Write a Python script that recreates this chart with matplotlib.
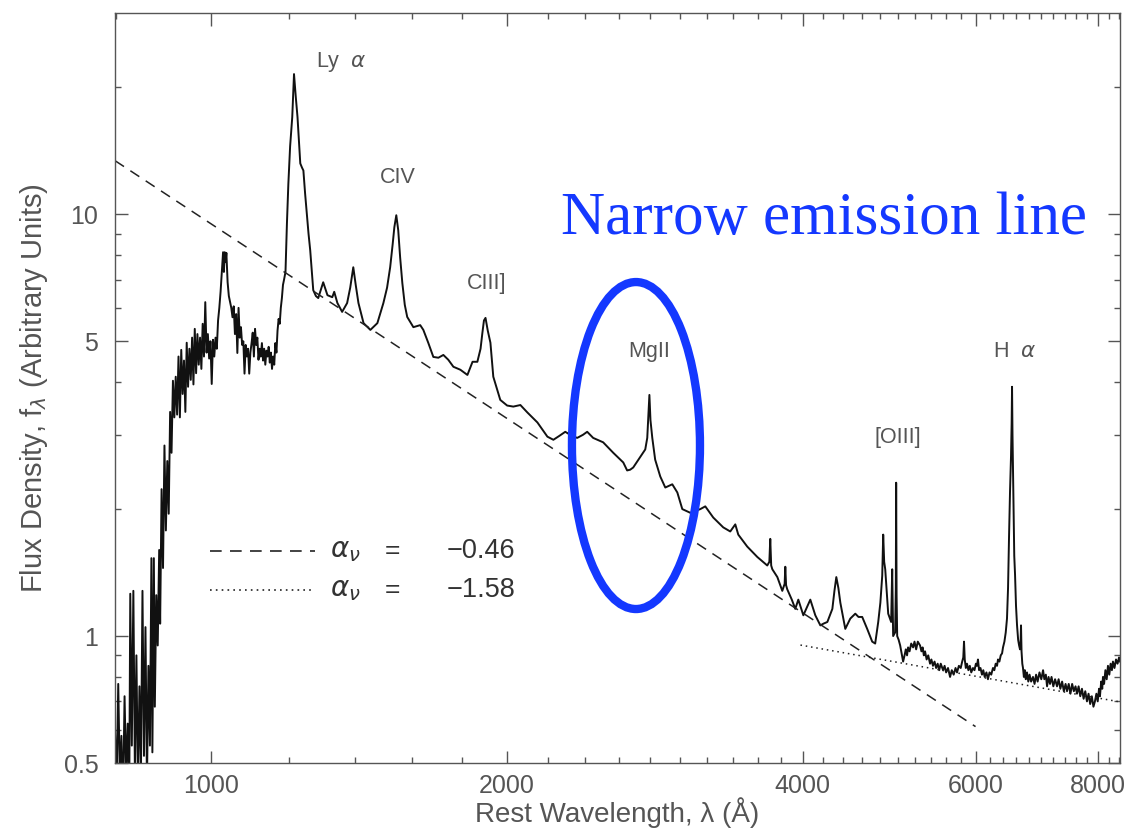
import matplotlib
matplotlib.use("Agg")
import matplotlib.pyplot as plt
from matplotlib.patches import Ellipse
from matplotlib.ticker import NullFormatter

# rest-frame composite spectrum
wave = [798, 801, 804, 807, 810, 813, 816, 819, 822, 825, 827, 830, 833, 836, 839, 842, 845, 848, 851, 854,
        857, 860, 863, 866, 869, 871, 874, 876, 879, 882, 885, 887, 890, 893, 896, 899, 902, 905, 908, 911,
        914, 917, 920, 923, 926, 929, 932, 935, 938, 941, 944, 947, 950, 953, 956, 959, 962, 965, 968, 971,
        974, 977, 980, 983, 986, 989, 992, 995, 998, 1001, 1004, 1007, 1010, 1013, 1016, 1019, 1022, 1025, 1028, 1030,
        1032, 1034, 1036, 1039, 1042, 1045, 1048, 1051, 1054, 1057, 1060, 1063, 1066, 1069, 1072, 1075, 1078, 1081, 1084, 1087,
        1090, 1093, 1096, 1099, 1102, 1105, 1108, 1111, 1114, 1117, 1120, 1123, 1126, 1129, 1132, 1135, 1138, 1141, 1144, 1147,
        1150, 1153, 1156, 1159, 1162, 1165, 1168, 1171, 1174, 1177, 1180, 1183, 1186, 1190, 1194, 1198, 1203, 1209, 1214, 1219,
        1224, 1228, 1232, 1237, 1241, 1246, 1252, 1256, 1261, 1266, 1270, 1278, 1285, 1300, 1313, 1328, 1334, 1344, 1359, 1375,
        1385, 1395, 1403, 1412, 1429, 1452, 1476, 1497, 1510, 1521, 1530, 1536, 1543, 1550, 1557, 1565, 1574, 1583, 1606, 1632,
        1644, 1663, 1683, 1703, 1723, 1743, 1764, 1793, 1823, 1845, 1866, 1880, 1888, 1895, 1902, 1912, 1924, 1937, 1969, 2001,
        2030, 2064, 2098, 2148, 2199, 2230, 2260, 2293, 2325, 2358, 2390, 2414, 2448, 2506, 2566, 2627, 2651, 2670, 2689, 2734,
        2766, 2779, 2786, 2793, 2800, 2812, 2831, 2865, 2899, 2947, 2982, 3017, 3074, 3147, 3184, 3244, 3321, 3376, 3416, 3440,
        3513, 3597, 3682, 3700, 3708, 3716, 3726, 3770, 3814, 3835, 3841, 3848, 3859, 3900, 3932, 3960, 4007, 4040, 4073, 4121,
        4170, 4200, 4239, 4289, 4310, 4329, 4350, 4370, 4421, 4473, 4526, 4560, 4600, 4654, 4709, 4742, 4776, 4800, 4821, 4832,
        4843, 4855, 4889, 4923, 4935, 4946, 4969, 4977, 4981, 4986, 4993, 5010, 5028, 5045, 5063, 5080, 5095, 5110, 5122, 5140,
        5160, 5183, 5200, 5220, 5240, 5268, 5285, 5300, 5315, 5330, 5350, 5370, 5393, 5410, 5430, 5450, 5470, 5490, 5510, 5530,
        5560, 5580, 5600, 5625, 5652, 5675, 5700, 5725, 5745, 5770, 5795, 5815, 5830, 5840, 5850, 5865, 5881, 5900, 5920, 5940,
        5964, 5985, 6005, 6020, 6034, 6050, 6070, 6091, 6110, 6130, 6155, 6177, 6200, 6225, 6250, 6270, 6290, 6310, 6324, 6345,
        6365, 6385, 6399, 6420, 6440, 6459, 6475, 6490, 6505, 6520, 6530, 6536, 6543, 6551, 6560, 6570, 6582, 6597, 6613, 6630,
        6645, 6659, 6667, 6675, 6683, 6695, 6706, 6720, 6735, 6750, 6769, 6790, 6810, 6835, 6865, 6890, 6915, 6940, 6970, 7000,
        7029, 7050, 7075, 7095, 7120, 7145, 7170, 7200, 7230, 7263, 7290, 7320, 7350, 7380, 7410, 7435, 7465, 7495, 7525, 7555,
        7585, 7611, 7640, 7670, 7700, 7730, 7760, 7791, 7820, 7850, 7880, 7910, 7938, 7965, 7990, 8015, 8032, 8055, 8075, 8089,
        8110, 8135, 8160, 8184, 8210, 8235, 8260, 8280, 8310, 8340, 8370, 8400, 8420]
flux = [0.60, 0.45, 0.77, 0.46, 0.58, 0.40, 0.72, 0.47, 0.62, 0.42, 1.26, 0.55, 1.28, 0.48, 0.90, 0.44, 0.76, 0.48, 1.28, 0.52,
        1.05, 0.45, 0.85, 0.55, 1.53, 0.53, 1.53, 0.68, 1.25, 0.95, 1.60, 1.07, 2.23, 1.45, 2.83, 1.78, 2.60, 1.95, 3.40, 2.72,
        4.03, 3.30, 4.12, 3.35, 4.60, 3.30, 4.77, 3.75, 4.50, 3.40, 4.96, 3.90, 4.80, 4.05, 5.10, 3.95, 5.35, 4.20, 5.20, 4.40,
        5.10, 4.30, 5.50, 4.60, 6.19, 4.70, 5.20, 4.55, 5.00, 3.96, 5.04, 4.60, 5.10, 4.80, 5.60, 6.00, 6.55, 7.30, 8.13, 7.30,
        8.13, 7.70, 8.10, 6.90, 6.40, 6.20, 6.00, 5.70, 6.05, 5.20, 5.80, 4.69, 6.00, 5.10, 5.40, 4.90, 5.00, 4.19, 4.90, 4.60,
        4.80, 4.19, 4.70, 4.95, 5.24, 4.60, 5.35, 4.90, 5.10, 4.52, 4.80, 4.60, 4.95, 4.50, 4.80, 4.40, 4.75, 4.60, 4.85, 4.45,
        4.70, 4.30, 4.60, 4.40, 4.95, 4.70, 5.30, 5.65, 5.50, 6.00, 6.33, 6.80, 7.00, 7.30, 9.50, 11.8, 14.5, 17.0, 21.5, 19.0,
        17.0, 15.0, 13.2, 12.9, 12.7, 11.2, 9.84, 9.00, 8.22, 7.30, 6.61, 6.40, 6.33, 6.90, 6.43, 6.36, 6.55, 6.16, 5.87, 6.16,
        6.70, 7.49, 6.80, 6.16, 5.52, 5.32, 5.52, 6.16, 6.70, 7.49, 8.50, 9.32, 9.95, 9.17, 7.90, 6.87, 6.10, 5.71, 5.40, 5.46,
        5.32, 4.96, 4.59, 4.57, 4.64, 4.52, 4.35, 4.28, 4.16, 4.47, 4.47, 4.80, 5.23, 5.60, 5.68, 5.30, 4.96, 4.12, 3.63, 3.52,
        3.50, 3.53, 3.39, 3.21, 2.97, 2.92, 2.98, 3.05, 2.99, 2.95, 3.00, 3.05, 2.95, 2.88, 2.72, 2.58, 2.47, 2.48, 2.51, 2.66,
        2.77, 2.95, 3.30, 3.73, 3.25, 2.95, 2.62, 2.39, 2.25, 2.29, 2.19, 2.00, 1.96, 2.00, 2.03, 1.91, 1.81, 1.77, 1.84, 1.74,
        1.63, 1.54, 1.47, 1.50, 1.70, 1.47, 1.44, 1.38, 1.28, 1.33, 1.46, 1.32, 1.29, 1.22, 1.16, 1.22, 1.12, 1.17, 1.22, 1.12,
        1.06, 1.07, 1.08, 1.16, 1.28, 1.38, 1.30, 1.20, 1.04, 1.10, 1.13, 1.11, 1.11, 1.04, 0.97, 0.96, 1.08, 1.20, 1.39, 1.74,
        1.50, 1.44, 1.13, 1.08, 1.44, 1.00, 1.02, 1.30, 2.31, 1.25, 1.00, 0.98, 0.95, 0.91, 0.87, 0.90, 0.93, 0.90, 0.94, 0.92,
        0.96, 0.94, 0.97, 0.93, 0.97, 0.95, 0.92, 0.94, 0.90, 0.92, 0.88, 0.90, 0.86, 0.88, 0.85, 0.87, 0.84, 0.86, 0.83, 0.86,
        0.83, 0.85, 0.82, 0.84, 0.80, 0.83, 0.81, 0.84, 0.82, 0.85, 0.84, 0.87, 0.89, 0.97, 0.88, 0.84, 0.86, 0.83, 0.85, 0.82,
        0.84, 0.83, 0.86, 0.85, 0.88, 0.83, 0.84, 0.81, 0.83, 0.80, 0.82, 0.79, 0.82, 0.81, 0.84, 0.83, 0.86, 0.85, 0.88, 0.87,
        0.90, 0.91, 0.94, 0.97, 1.02, 1.10, 1.30, 1.72, 2.20, 2.66, 3.20, 3.90, 3.00, 2.45, 1.90, 1.55, 1.40, 1.18, 1.06, 0.98,
        0.95, 0.93, 0.95, 1.06, 0.92, 0.86, 0.84, 0.80, 0.83, 0.79, 0.82, 0.78, 0.81, 0.78, 0.80, 0.77, 0.81, 0.78, 0.82, 0.79,
        0.83, 0.79, 0.81, 0.76, 0.80, 0.77, 0.80, 0.76, 0.79, 0.76, 0.79, 0.75, 0.78, 0.74, 0.77, 0.74, 0.77, 0.73, 0.77, 0.74,
        0.76, 0.73, 0.76, 0.72, 0.75, 0.71, 0.74, 0.70, 0.73, 0.69, 0.72, 0.68, 0.70, 0.73, 0.70, 0.75, 0.72, 0.78, 0.75, 0.80,
        0.77, 0.83, 0.79, 0.85, 0.81, 0.86, 0.83, 0.87, 0.84, 0.88, 0.86, 0.89, 0.87]

# power-law continua (end points)
pl_wave = [798, 6000]
pl_flux = [13.4, 0.61]
pl2_wave = [3980, 8420]
pl2_flux = [0.952, 0.698]

line_names = ["Ly  $\\alpha$", "CIV", "CIII]", "MgII", "[OIII]", "H  $\\alpha$"]
line_wave = [1356, 1550, 1906, 2790, 4995, 6571]
line_flux = [23.0, 12.2, 6.87, 4.72, 2.95, 4.72]

legend_alpha = ["\u22120.46", "\u22121.58"]

xticks = [1000, 2000, 4000, 6000, 8000]
xminor = list(range(800, 8500, 200))
yticks = [0.5, 1, 5, 10]
yminor = [0.6, 0.7, 0.8, 0.9, 2, 3, 4, 6, 7, 8, 9, 20]

gray = "#555555"
blue = "#1438ff"
plt.rcParams['font.family'] = ['Liberation Sans', 'DejaVu Sans']

fig = plt.figure(figsize=(11.29, 8.32), dpi=100)
ax = fig.add_axes([0.1019, 0.0829, 0.8902, 0.9014])

ax.plot(wave, flux, color="#111111", lw=1.4)
ax.plot(pl_wave, pl_flux, color="#222222", lw=1.1, dashes=(7, 5))
ax.plot(pl2_wave, pl2_flux, color="#222222", lw=1.1, dashes=(1, 2.5))

ax.set_xscale("log")
ax.set_yscale("log")
ax.set_xlim(798, 8420)
ax.set_ylim(0.5, 30)

ax.set_xticks(xticks, [str(t) for t in xticks])
ax.set_xticks(xminor, minor=True)
ax.xaxis.set_minor_formatter(NullFormatter())
ax.set_yticks(yticks, ["0.5", "1", "5", "10"])
ax.set_yticks(yminor, minor=True)
ax.yaxis.set_minor_formatter(NullFormatter())

ax.tick_params(which="both", direction="in", top=True, right=True, colors=gray, width=1.0)
ax.tick_params(which="major", length=9, labelsize=18, labelcolor=gray)
ax.tick_params(axis="x", which="major", pad=8)
ax.tick_params(axis="y", which="major", pad=12)
ax.tick_params(which="minor", length=4.5)
for s in ax.spines.values():
    s.set_color(gray)
    s.set_linewidth(1.0)

ax.set_xlabel("Rest Wavelength, \u03bb (\u00c5)", fontsize=20, color=gray, labelpad=-1)
ax.set_ylabel("Flux Density, f$_\\lambda$ (Arbitrary Units)", fontsize=21, color=gray, labelpad=10)

for name, lw_, lf in zip(line_names, line_wave, line_flux):
    ax.text(lw_, lf, name, fontsize=15.5, color=gray, ha="center", va="center")

# legend for the two continuum slopes
ax.plot([0.0945, 0.199], [0.2827, 0.2827], transform=ax.transAxes, color="#222222", lw=1.2, dashes=(7, 5))
ax.plot([0.0945, 0.199], [0.2307, 0.2307], transform=ax.transAxes, color="#222222", lw=1.2, dashes=(1, 2.5))
for yy, val in zip([0.2827, 0.2307], legend_alpha):
    ax.text(0.214, yy, "$\\alpha_\\nu$", transform=ax.transAxes, fontsize=20, color="#333333", va="center")
    ax.text(0.2756, yy, "=", transform=ax.transAxes, fontsize=19, color="#333333", va="center", ha="center")
    ax.text(0.398, yy, val, transform=ax.transAxes, fontsize=19.5, color="#333333", va="center", ha="right")

fig.add_artist(Ellipse((0.5633, 0.4645), 0.1134, 0.3930, transform=fig.transFigure,
                       fill=False, edgecolor=blue, lw=6, zorder=10))
fig.text(0.497, 1 - 234 / 832, "Narrow emission line", fontsize=44, color=blue,
         family="Liberation Serif", ha="left", va="baseline")

fig.savefig("out.png", dpi=100)
